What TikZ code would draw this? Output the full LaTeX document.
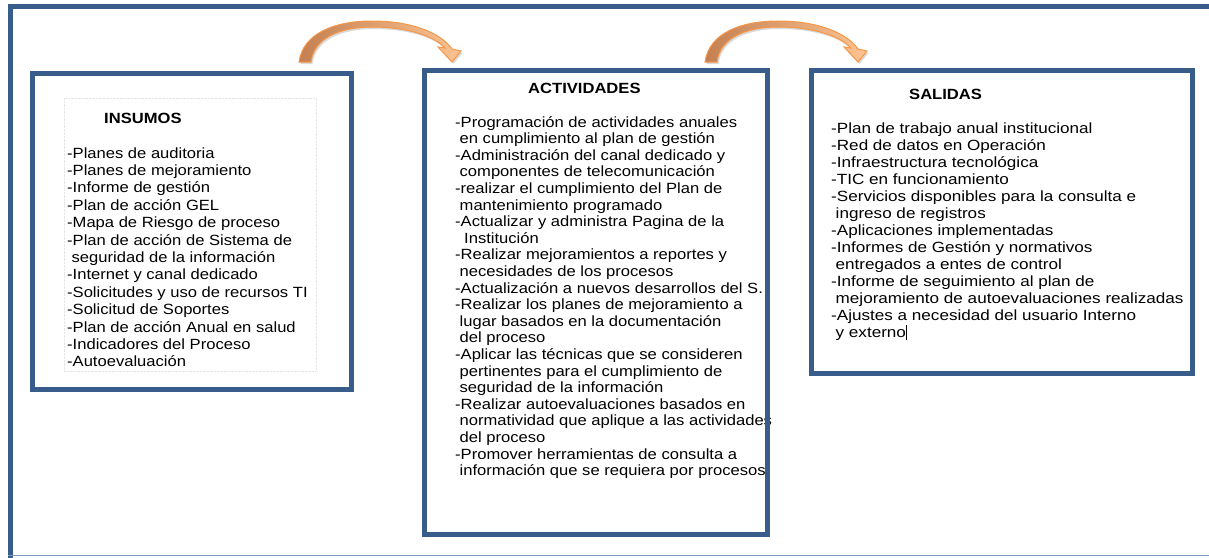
\documentclass[tikz,border=0pt]{standalone}
\usepackage{fontspec}
\setmainfont{Liberation Sans}[FakeStretch=1.12]
\newfontfamily\salidasfont{Liberation Sans}[FakeStretch=1.155]
\usetikzlibrary{positioning,shadows}

\definecolor{frameblue}{RGB}{56,93,138}
\definecolor{rimblue}{RGB}{127,156,192}
\definecolor{arroworange}{RGB}{247,150,70}
\definecolor{arrowdark}{RGB}{196,128,82}
\definecolor{arrowlight}{RGB}{252,196,146}

\newcommand{\ind}{\hspace*{4.5pt}}

\tikzset{
        panel/.style 2 args={draw=frameblue, line width=5pt, anchor=north west, inner sep=0pt, minimum width=#1, minimum height=#2},
        boxtitle/.style={font=\bfseries\fontsize{14.8}{17}\selectfont, anchor=base west, inner sep=0pt},
        itemlist/.style={font=\fontsize{14.8}{#1}\selectfont, align=left, anchor=base west, inner sep=0pt},
        bentarrow/.pic={
                \path[draw=arroworange, line width=1pt, left color=arrowdark, right color=arrowlight,
                        drop shadow={shadow xshift=1.5pt, shadow yshift=-2pt, opacity=0.3, fill=gray}]
                        (0,0) .. controls (4,-29) and (36,-41) .. (73,-41)
                        .. controls (111,-41) and (141,-30) .. (153,-13)
                        -- (162,-11) -- (153,0) -- (139,-15) -- (146,-14)
                        .. controls (134,-27) and (106,-35) .. (73,-35)
                        .. controls (41,-35) and (15,-24) .. (12,0) -- cycle;
        }
}

\begin{document}
\begin{tikzpicture}[x=1pt, y=-1pt]
        \useasboundingbox (0,0) rectangle (1209,557);
        \draw[frameblue, line width=5pt] (10.5,565) -- (10.5,6.5) -- (1215,6.5);
        \draw[rimblue, line width=1.5pt] (8,555.5) -- (1209,555.5);
        \draw[gray!20, densely dotted] (64,98) rectangle (316,371);

        \node[boxtitle] (insumostitle) at (104,123) {INSUMOS};
        \node[itemlist=17.4pt] (insumoslist) at (67,366.8) {-Planes de auditoria\\
                -Planes de mejoramiento\\
                -Informe de gestión\\
                -Plan de acción GEL\\
                -Mapa de Riesgo de proceso\\
                -Plan de acción de Sistema de\\
                \ind seguridad de la información\\
                -Internet y canal dedicado\\
                -Solicitudes y uso de recursos TI\\
                -Solicitud de Soportes\\
                -Plan de acción Anual en salud\\
                -Indicadores del Proceso\\
                -Autoevaluación};

        \node[boxtitle] (actividadestitle) at (528,93) {ACTIVIDADES};
        \node[itemlist=16.6pt] (actividadeslist) at (455,475.6) {-Programación de actividades anuales\\
                \ind en cumplimiento al plan de gestión\\
                -Administración del canal dedicado y\\
                \ind componentes de telecomunicación\\
                -realizar el cumplimiento del Plan de\\
                \ind mantenimiento programado\\
                -Actualizar y administra Pagina de la\\
                \ind\ind Institución\\
                -Realizar mejoramientos a reportes y\\
                \ind necesidades de los procesos\\
                -Actualización a nuevos desarrollos del S.\\
                -Realizar los planes de mejoramiento a\\
                \ind lugar basados en la documentación\\
                \ind del proceso\\
                -Aplicar las técnicas que se consideren\\
                \ind pertinentes para el cumplimiento de\\
                \ind seguridad de la información\\
                -Realizar autoevaluaciones basados en\\
                \ind normatividad que aplique a las actividades\\
                \ind del proceso\\
                -Promover herramientas de consulta a\\
                \ind información que se requiera por procesos};

        \node[boxtitle] (salidastitle) at (909,99) {SALIDAS};
        \node[itemlist=17pt, font=\salidasfont\fontsize{14.8}{17}\selectfont] (salidaslist) at (831,337) {-Plan de trabajo anual institucional\\
                -Red de datos en Operación\\
                -Infraestructura tecnológica\\
                -TIC en funcionamiento\\
                -Servicios disponibles para la consulta e\\
                \ind ingreso de registros\\
                -Aplicaciones implementadas\\
                -Informes de Gestión y normativos\\
                \ind entregados a entes de control\\
                -Informe de seguimiento al plan de\\
                \ind mejoramiento de autoevaluaciones realizadas\\
                -Ajustes a necesidad del usuario Interno\\
                \ind y externo\rule[-3pt]{0.8pt}{15pt}};

        \node[panel={319pt}{316pt}] (insumos) at (30,71) {};
        \node[panel={343pt}{464pt}] (actividades) at (422,68) {};
        \node[panel={381pt}{303pt}] (salidas) at (809,68) {};

        \pic at (299,62) {bentarrow};
        \pic at (705,62) {bentarrow};
\end{tikzpicture}
\end{document}
